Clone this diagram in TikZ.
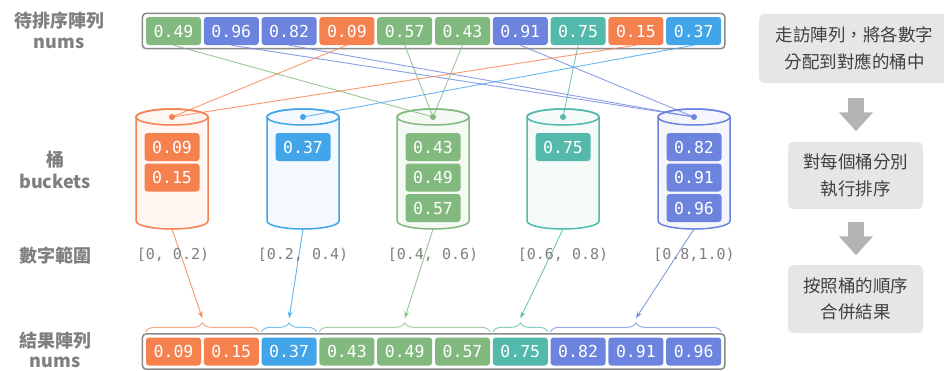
\documentclass[tikz,border=0pt]{standalone}
\usepackage{fontspec}
\setmonofont{DejaVu Sans Mono}
\newfontfamily\cjk{Noto Sans CJK TC}
\usetikzlibrary{arrows.meta,decorations.pathreplacing,fit,calc}
\definecolor{cO}{HTML}{F5814F}
\definecolor{cB}{HTML}{42A5EA}
\definecolor{cG}{HTML}{82B97E}
\definecolor{cT}{HTML}{52B9AB}
\definecolor{cP}{HTML}{6D84DE}
\definecolor{fO}{HTML}{FFF6F2}
\definecolor{fB}{HTML}{F3F9FE}
\definecolor{fG}{HTML}{F5F9F4}
\definecolor{fT}{HTML}{F3FAF8}
\definecolor{fP}{HTML}{F5F6FD}
\definecolor{framegray}{HTML}{8A8A8A}
\definecolor{lblgray}{HTML}{7F7F7F}
\definecolor{boxgray}{HTML}{E6E6E6}
\definecolor{arrowgray}{HTML}{B4B4B4}
\definecolor{txtdark}{HTML}{404040}
\newcommand\drawbucket[3]{%
  \filldraw[draw=#2, fill=#3, line width=1.5pt]
    (#1-36,117) -- (#1-36,221)
    arc[start angle=180,end angle=360,x radius=36pt,y radius=8pt]
    -- (#1+36,117)
    arc[start angle=0,end angle=180,x radius=36pt,y radius=8pt] -- cycle;
  \draw[draw=#2, line width=1.5pt] (#1,117) ellipse[x radius=36pt, y radius=8pt];
}
\begin{document}
\begin{tikzpicture}[x=1pt,y=-1pt,
  cell/.style={rounded corners=3pt, minimum width=55pt, minimum height=28pt, inner sep=0pt,
    text=white, font=\ttfamily\fontsize{16.5}{16.5}\selectfont},
  frame/.style={draw=framegray, line width=1.5pt, rounded corners=4pt, inner sep=3.5pt},
  sidelbl/.style={text=lblgray, font=\cjk\bfseries\fontsize{18}{18}\selectfont, inner sep=0pt},
  rangelbl/.style={text=lblgray, font=\ttfamily\fontsize{15}{15}\selectfont, inner sep=0pt},
  conn/.style={line width=0.9pt, opacity=0.8},
  bracestyle/.style={decorate, decoration={brace, amplitude=9pt}, line width=1pt, opacity=0.7},
  tipstyle/.style={-{Stealth[length=7pt,width=5pt]}},
  stepbox/.style={fill=boxgray, rounded corners=5pt, align=center, text=txtdark,
    font=\cjk\fontsize{17.5}{26.5}\selectfont, inner sep=0pt},
  bigarrow/.style={draw=arrowgray, line width=16pt, -{Triangle[length=19pt,width=33pt]}}
]
\useasboundingbox (0,0) rectangle (944,370);

% buckets
\drawbucket{172}{cO}{fO}
\drawbucket{303}{cB}{fB}
\drawbucket{433}{cG}{fG}
\drawbucket{563}{cT}{fT}
\drawbucket{694}{cP}{fP}
\foreach \cx [count=\k] in {172,303,433,563,694} {
  \coordinate (d\k) at (\cx,117);
  \coordinate (bb\k) at (\cx,229);
}

% top array
\foreach \v/\c [count=\i from 0] in {0.49/cG,0.96/cP,0.82/cP,0.09/cO,0.57/cG,0.43/cG,0.91/cP,0.75/cT,0.15/cO,0.37/cB}
  \node[cell, fill=\c] (t\i) at (173.5+57.8*\i,31) {\v};
\node[frame, fit=(t0)(t9)] (topframe) {};

% bottom array
\foreach \v/\c [count=\i from 0] in {0.09/cO,0.15/cO,0.37/cB,0.43/cG,0.49/cG,0.57/cG,0.75/cT,0.82/cP,0.91/cP,0.96/cP}
  \node[cell, fill=\c] (r\i) at (173.5+57.8*\i,351.5) {\v};
\node[frame, fit=(r0)(r9)] (botframe) {};

% bucket contents
\node[cell, fill=cO] (k11) at (172,147) {0.09};
\node[cell, fill=cO] (k12) at (172,177.5) {0.15};
\node[cell, fill=cB] (k21) at (303,147) {0.37};
\node[cell, fill=cG] (k31) at (433,147) {0.43};
\node[cell, fill=cG] (k32) at (433,177.5) {0.49};
\node[cell, fill=cG] (k33) at (433,208) {0.57};
\node[cell, fill=cT] (k41) at (563,147) {0.75};
\node[cell, fill=cP] (k51) at (694,147) {0.82};
\node[cell, fill=cP] (k52) at (694,177.5) {0.91};
\node[cell, fill=cP] (k53) at (694,208) {0.96};

% distribution lines
\foreach \s/\d/\c in {0/3/cG,1/5/cP,2/5/cP,3/1/cO,4/3/cG,5/3/cG,6/5/cP,7/4/cT,8/1/cO,9/2/cB}
  \draw[conn, draw=\c] (t\s.south) -- (d\d);
\foreach \k/\c in {1/cO,2/cB,3/cG,4/cT,5/cP}
  \fill[\c] (d\k) circle[radius=3pt];

% braces
\foreach \a/\b/\k/\c in {0/1/1/cO,2/2/2/cB,3/5/3/cG,6/6/4/cT,7/9/5/cP} {
  \draw[bracestyle, draw=\c] ([yshift=5.5pt]r\a.north west) -- ([yshift=5.5pt]r\b.north east);
  \coordinate (bt\k) at ($(r\a.north west)!0.5!(r\b.north east)+(0,-19)$);
}

% merge arrows
\foreach \k/\c in {1/cO,2/cB,3/cG,4/cT,5/cP}
  \draw[conn, tipstyle, draw=\c, fill=\c] (bb\k) -- (bt\k);

% range labels
\node[rangelbl] (g1) at (173,255) {[0, 0.2)};
\node[rangelbl] (g2) at (303,255) {[0.2, 0.4)};
\node[rangelbl] (g3) at (433,255) {[0.4, 0.6)};
\node[rangelbl] (g4) at (563,255) {[0.6, 0.8)};
\node[rangelbl] (g5) at (694,255) {[0.8,1.0)};

% side labels
\node[sidelbl] (l1a) at (59,21) {待排序陣列};
\node[sidelbl] (l1b) at (59,43) {nums};
\node[sidelbl] (l2a) at (55,160) {桶};
\node[sidelbl] (l2b) at (55,181) {buckets};
\node[sidelbl] (l3) at (55,256) {數字範圍};
\node[sidelbl] (l4a) at (55,341) {結果陣列};
\node[sidelbl] (l4b) at (55,362) {nums};

% right-hand steps
\node[stepbox, minimum width=191pt, minimum height=69pt] (s1) at (854.5,48.5) {走訪陣列，將各數字\\分配到對應的桶中};
\node[stepbox, minimum width=135pt, minimum height=67pt] (s2) at (855.5,175.5) {對每個桶分別\\執行排序};
\node[stepbox, minimum width=135pt, minimum height=68pt] (s3) at (855.5,299) {按照桶的順序\\合併結果};
\draw[bigarrow] ($(s2.north)+(0.5,-43.5)$) -- ($(s2.north)+(0.5,-10.5)$);
\draw[bigarrow] ($(s3.north)+(0.5,-42.5)$) -- ($(s3.north)+(0.5,-9.5)$);
\end{tikzpicture}
\end{document}
